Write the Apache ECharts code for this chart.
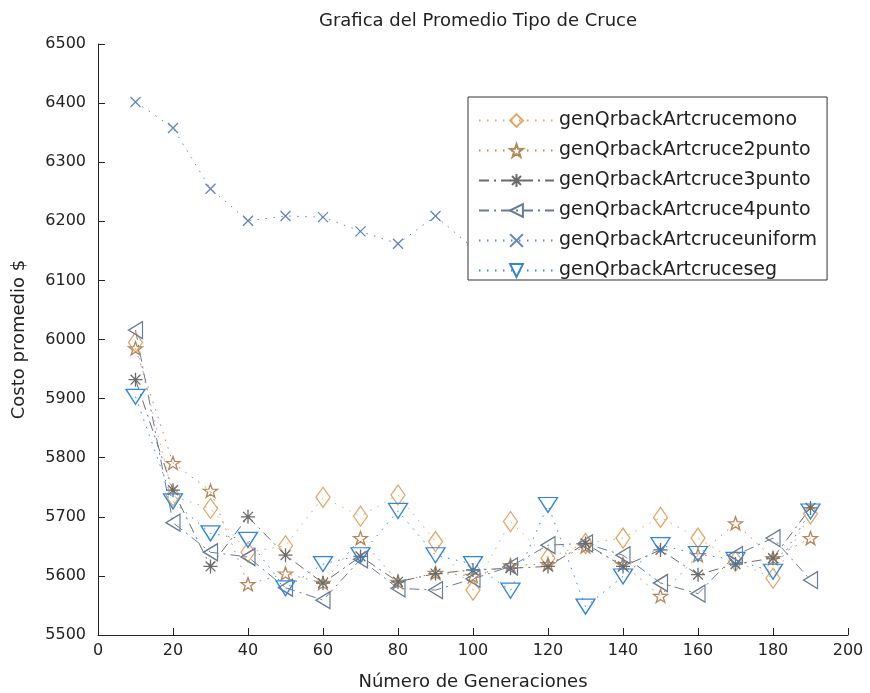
<!DOCTYPE html>
<html><head><meta charset="utf-8">
<script src="https://cdn.jsdelivr.net/npm/echarts@6/dist/echarts.min.js"></script>
<style>html,body{margin:0;padding:0;background:#fff}#c{width:870px;height:693px}</style>
</head><body><div id="c"></div>
<script>
const generations = [10,20,30,40,50,60,70,80,90,100,110,120,130,140,150,160,170,180,190];
const seriesNames = ['genQrbackArtcrucemono','genQrbackArtcruce2punto','genQrbackArtcruce3punto','genQrbackArtcruce4punto','genQrbackArtcruceuniform','genQrbackArtcruceseg'];
const crucemono    = [5995,5735,5714,5640,5651,5733,5701,5737,5658,5576,5692,5630,5655,5664,5699,5664,5625,5596,5705];
const cruce2punto  = [5985,5791,5744,5586,5604,5588,5664,5590,5605,5600,5618,5620,5650,5620,5566,5635,5689,5630,5664];
const cruce3punto  = [5932,5745,5616,5700,5635,5588,5633,5590,5604,5610,5613,5616,5655,5616,5644,5602,5620,5630,5715];
const cruce4punto  = [6016,5690,5640,5632,5580,5559,5628,5579,5576,5595,5616,5652,5655,5635,5588,5570,5635,5664,5593];
const cruceuniform = [6402,6358,6255,6201,6209,6207,6183,6162,6209,6155,6170,6160,6180,6150,6170,6160,6175,6165,6150];
const cruceseg     = [5903,5726,5672,5661,5579,5620,5635,5710,5635,5620,5575,5720,5548,5599,5652,5637,5627,5607,5709];
const titleText = 'Grafica del Promedio Tipo de Cruce';
const xName = 'Número de Generaciones';
const yName = 'Costo promedio $';

const valuesList = [crucemono, cruce2punto, cruce3punto, cruce4punto, cruceuniform, cruceseg];
const colors = ['#e3a765','#b5875a','#6b6b6b','#6a7b96','#5f86b8','#2f86dc'];
const dotted = [1.5, 6.5];
const dashDot = [10, 5, 2, 5];
const lineTypes = [dotted, dotted, dashDot, dashDot, dotted, dotted];
const star = 'path://M10,0L12.35,6.76L19.51,6.91L13.8,11.24L15.88,18.09L10,14L4.12,18.09L6.2,11.24L0.49,6.91L7.65,6.76Z';
const asterisk = 'path://M5,0L5,10M0,5L10,5M1.5,1.5L8.5,8.5M1.5,8.5L8.5,1.5';
const triLeft = 'path://M0,5L10,0L10,10Z';
const triDown = 'path://M0,0L10,0L5,10Z';
const xMark = 'path://M0,0L10,10M0,10L10,0';
const symbols = ['diamond', star, asterisk, triLeft, xMark, triDown];
const sizes = [[14,20],[14,13],[14,14],[14,17],[10,10],[19,15]];

const FONT = 'DejaVu Sans';
const chart = echarts.init(document.getElementById('c'), null, {renderer:'canvas'});
chart.setOption({
  animation: false,
  backgroundColor: '#fff',
  title: {
    text: titleText, left: 473, top: 7, textAlign: 'center',
    textStyle: {fontFamily: FONT, fontSize: 18, fontWeight: 'normal', color: '#222'}
  },
  legend: {
    orient: 'vertical', left: 468, top: 97,
    padding: [14, 10, 0, 10],
    itemWidth: 75, itemHeight: 16, itemGap: 11,
    backgroundColor: '#fff', borderColor: '#333', borderWidth: 1,
    data: seriesNames,
    textStyle: {fontFamily: FONT, fontSize: 19, color: '#222', lineHeight: 18}
  },
  grid: {left: 98, right: 22, top: 44, bottom: 58, outerBoundsMode: 'none'},
  xAxis: {
    type: 'value', min: 0, max: 200, interval: 20,
    name: xName, nameLocation: 'middle', nameGap: 38,
    nameTextStyle: {fontFamily: FONT, fontSize: 18, color: '#222'},
    axisLine: {lineStyle: {color: '#222', width: 1}},
    axisTick: {inside: true, length: 7, lineStyle: {color: '#222'}},
    axisLabel: {fontFamily: FONT, fontSize: 16, color: '#222', margin: 8},
    splitLine: {show: false}
  },
  yAxis: {
    type: 'value', min: 5500, max: 6500, interval: 100,
    name: yName, nameLocation: 'middle', nameGap: 70,
    nameTextStyle: {fontFamily: FONT, fontSize: 18, color: '#222'},
    axisLine: {show: true, lineStyle: {color: '#222', width: 1}},
    axisTick: {show: true, inside: true, length: 7, lineStyle: {color: '#222'}},
    axisLabel: {fontFamily: FONT, fontSize: 16, color: '#222', margin: 12, formatter: v => String(v)},
    splitLine: {show: false}
  },
  series: seriesNames.map((n, i) => ({
    name: n, type: 'line',
    data: generations.map((g, k) => [g, valuesList[i][k]]),
    symbol: symbols[i], symbolSize: sizes[i], showAllSymbol: true,
    z: i === 4 ? 1 : 2,
    lineStyle: {color: colors[i], width: 1, type: lineTypes[i]},
    itemStyle: {color: 'rgba(255,255,255,0)', borderColor: colors[i], borderWidth: 1.3}
  }))
});
</script></body></html>
